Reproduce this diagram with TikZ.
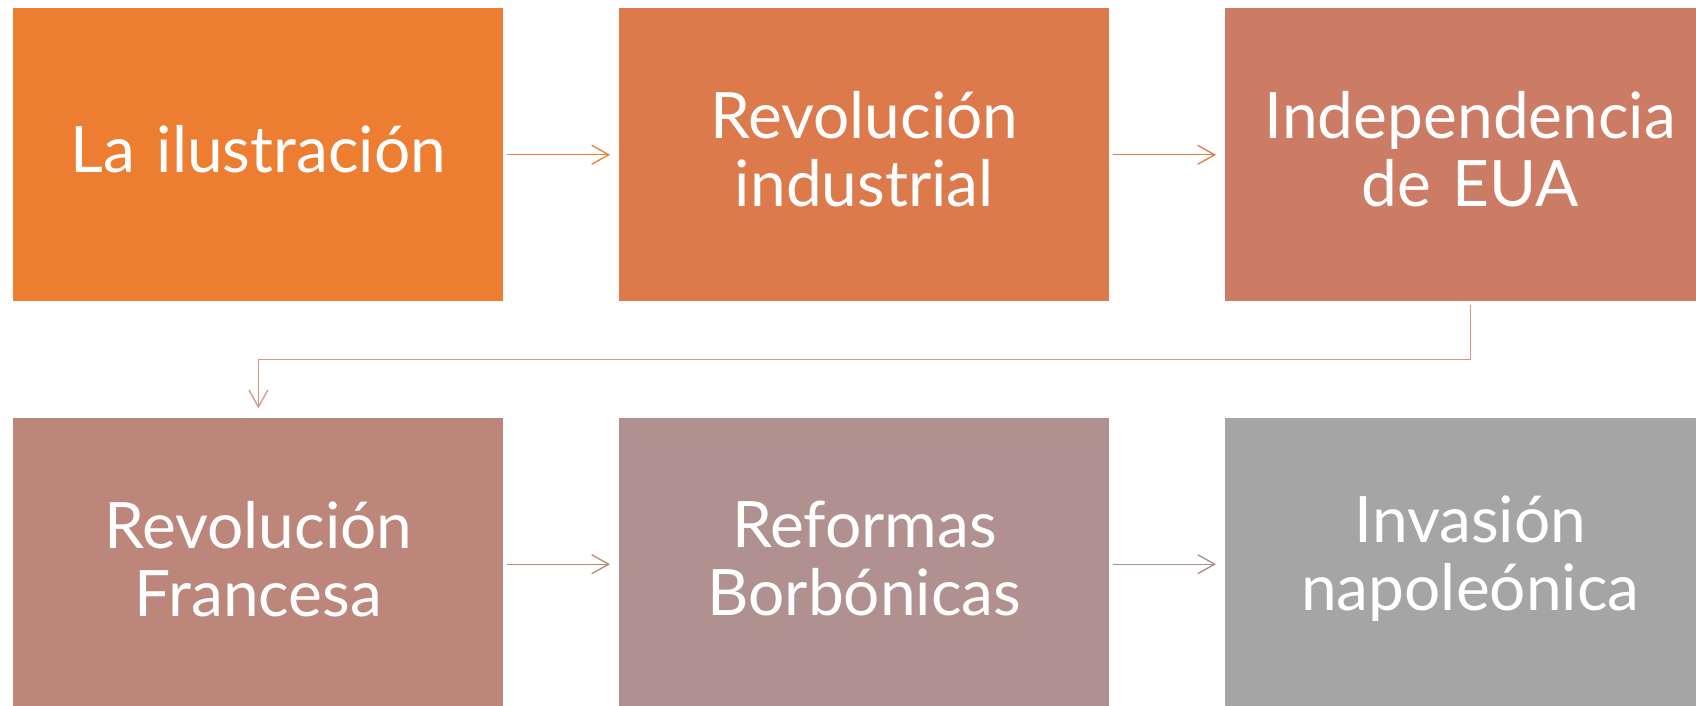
\documentclass[tikz,border=0pt]{standalone}
\usepackage{fontspec}
\setmainfont{Lato}
\usetikzlibrary{arrows.meta}

\definecolor{boxa}{HTML}{ED7D31}
\definecolor{boxb}{HTML}{DC7A4C}
\definecolor{boxc}{HTML}{CC7C64}
\definecolor{boxd}{HTML}{BC867A}
\definecolor{boxe}{HTML}{B0918F}
\definecolor{boxf}{HTML}{A5A5A5}

\begin{document}
\begin{tikzpicture}
  [x=0.5pt, y=0.5pt,
  block/.style={rectangle, fill=#1, text=white,
  text width=240pt, align=center, inner sep=0pt,
  minimum width=245pt, minimum height=146.5pt,
  font=\fontsize{32}{34}\selectfont,
  execute at end node={\endgraf\vspace*{5.5pt}}},
  line/.style={draw=#1, line width=0.65pt, shorten <=1.5pt, shorten >=4.5pt,
  -{Straight Barb[length=8.5pt,width=9.5pt]}}]

  \useasboundingbox (0,0) rectangle (1696,-706);

  \matrix [column sep=58pt, row sep=58pt, inner sep=0pt, anchor=north west] at (13,-7.5)
  {
    \node [block=boxa] (ilus) {La ilustración}; &
    \node [block=boxb] (indus) {Revolución\\industrial}; &
    \node [block=boxc] (indep) {Independencia\\de EUA}; \\
    \node [block=boxd] (franc) {Revolución\\Francesa}; &
    \node [block=boxe] (borb) {Reformas\\Borbónicas}; &
    \node [block=boxf] (napol) {Invasión\\napoleónica}; \\
  };
  \draw [line=boxa] (ilus) -- (indus);
  \draw [line=boxb] (indus) -- (indep);
  \draw [line=boxc!80!white] (indep.south) -- ++(0,-29pt) -| (franc.north);
  \draw [line=boxd] (franc) -- (borb);
  \draw [line=boxe!85!gray] (borb) -- (napol);
\end{tikzpicture}
\end{document}
